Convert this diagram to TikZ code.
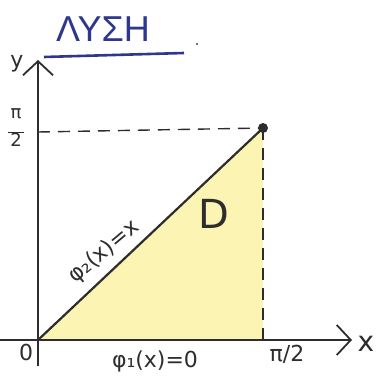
\documentclass[tikz,border=0pt]{standalone}
\usepackage{fontspec}
\newfontfamily\greekfont{Liberation Sans}
\newfontfamily\handfont{DejaVu Sans}
\usetikzlibrary{arrows.meta}
\definecolor{areafill}{RGB}{251,244,178}
\definecolor{penblue}{RGB}{45,55,140}
\definecolor{penink}{RGB}{45,45,45}
\begin{document}
\begin{tikzpicture}[
  x=0.5pt, y=-0.5pt,
  axis/.style={draw=penink, line width=1.1pt, -{Straight Barb[length=7pt,width=15pt,line width=0.9pt]}},
  guide/.style={draw=penink, line width=0.7pt, dash pattern=on 6pt off 4pt},
  lbl/.style={font=\handfont\fontsize{11}{13}\selectfont, text=penink, inner sep=1pt}
]
\useasboundingbox (0,0) rectangle (378,379);

% points of the region
\coordinate (O) at (38,340);
\coordinate (P) at (263,128);
\coordinate (Q) at (263,340);
\coordinate (Y) at (38,132);

\fill[areafill] (O) -- (P) -- (Q) -- cycle;

% axes
\coordinate (xs) at (0,340);
\coordinate (xe) at (352,340);
\coordinate (ys) at (38,366);
\coordinate (ye) at (38,60);
\draw[axis] (xs) -- (xe);
\draw[axis] (ys) -- (ye);

% bounds
\draw[guide] (Y) -- (P);
\draw[guide] (P) -- (Q);
\draw[draw=penink, line width=1.1pt] (O) -- (P);
\fill[penink] (P) circle (5);

% labels
\node[lbl, font=\handfont\fontsize{14}{16}\selectfont] (xlab) at (366,344) {x};
\node[lbl] (ylab) at (17,64) {y};
\node[lbl] (olab) at (26,352) {0};
\node[lbl] (pix) at (287,354) {π/2};
\node[lbl, align=center, font=\handfont\fontsize{9}{9}\selectfont] (piy) at (16,128) {π\\[-2pt]\rule{8pt}{0.5pt}\\[-2pt]2};
\node[lbl] (phi1) at (155,361) {φ₁(x)=0};
\node[lbl, rotate=40] (phi2) at (104,252) {φ₂(x)=x};
\node[lbl, font=\handfont\fontsize{20}{22}\selectfont] (D) at (214,214) {D};

% title
\node[text=penblue, font=\greekfont\fontsize{18}{20}\selectfont] (title) at (103,29) {ΛΥΣΗ};
\draw[penblue, line width=1.3pt] (44,57) -- (184,53);
\fill[penblue] (197,44) circle (1.2);
\end{tikzpicture}
\end{document}
